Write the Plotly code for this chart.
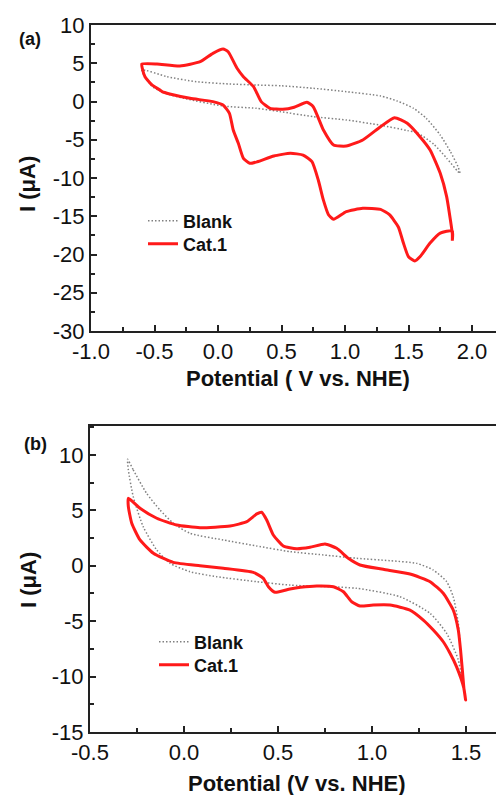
import plotly.graph_objects as go

# ---------------- Panel (a) data ----------------
a_cat_x = [-0.60, -0.48, -0.30, -0.14, -0.04, 0.04, 0.08, 0.15, 0.20, 0.28, 0.34, 0.41, 0.51,
           0.60, 0.70, 0.75, 0.83, 0.91, 1.01, 1.14, 1.28, 1.39, 1.49, 1.59, 1.67, 1.75, 1.80, 1.83, 1.845,
           1.845, 1.845, 1.75, 1.67, 1.59, 1.55, 1.50, 1.46, 1.42, 1.35, 1.28, 1.14, 1.01, 0.91, 0.87,
           0.83, 0.79, 0.74, 0.67, 0.57, 0.44, 0.31, 0.25, 0.20, 0.16, 0.12, 0.09, 0.04, -0.04,
           -0.22, -0.38, -0.44, -0.457, -0.52, -0.575, -0.596, -0.60]
a_cat_y = [4.90, 4.90, 4.64, 5.20, 6.30, 6.86, 6.50, 4.34, 3.24, 1.94, -0.02, -0.89, -1.02,
           -0.75, -0.10, -0.68, -3.73, -5.69, -5.82, -5.03, -3.29, -2.11, -2.85, -4.60, -6.34, -9.39, -12.4, -15.5, -17.3,
           -18.2, -16.9, -17.2, -18.5, -20.3, -20.85, -20.3, -18.5, -16.4, -14.8, -14.1, -13.96, -14.4, -15.4, -14.8,
           -12.9, -10.3, -7.87, -7.0, -6.77, -7.12, -7.87, -8.08, -7.43, -5.47, -3.73, -1.54, -0.46, -0.02,
           0.42, 0.98, 1.28, 1.50, 2.16, 3.24, 4.34, 4.90]

a_blank_x = [-0.60, -0.40, -0.17, 0.09, 0.30, 0.50, 0.75, 1.01, 1.28, 1.41, 1.54, 1.64, 1.75, 1.83, 1.89, 1.906,
             1.89, 1.80, 1.70, 1.57, 1.49, 1.28, 1.01, 0.75, 0.49, 0.30, 0.04, -0.27, -0.42, -0.52, -0.60]
a_blank_y = [4.12, 3.24, 2.59, 2.29, 2.16, 2.05, 1.73, 1.28, 0.72, 0.07, -0.89, -2.20, -4.38, -6.56, -8.52, -9.40,
             -9.17, -7.40, -5.60, -4.10, -3.80, -3.10, -2.42, -1.98, -1.33, -0.89, -0.59, 0.42, 1.10, 2.00, 4.12]

# ---------------- Panel (b) data ----------------
b_cat_x = [-0.296, -0.234, -0.145, -0.039, 0.085, 0.245, 0.334, 0.387, 0.413, 0.44, 0.475, 0.528, 0.599,
           0.67, 0.75, 0.812, 0.874, 0.936, 1.06, 1.202, 1.309, 1.379, 1.432, 1.459, 1.471, 1.482, 1.489, 1.498,
           1.488, 1.45, 1.415, 1.379, 1.326, 1.273, 1.202, 1.096, 1.007, 0.936, 0.892, 0.848, 0.795, 0.706,
           0.62, 0.564, 0.484, 0.449, 0.422, 0.369, 0.209, 0.085, -0.057, -0.163, -0.234, -0.278, -0.296, -0.296]
b_cat_y = [6.08, 5.18, 4.28, 3.67, 3.43, 3.58, 3.97, 4.67, 4.82, 4.12, 2.77, 1.78, 1.53,
           1.66, 1.96, 1.57, 0.67, 0.06, -0.33, -0.75, -1.44, -2.49, -4.00, -5.80, -7.60, -9.70, -11.07, -12.12,
           -11.0, -9.12, -7.90, -6.86, -5.80, -4.90, -4.00, -3.55, -3.55, -3.64, -3.25, -2.35, -1.90, -1.83,
           -1.95, -2.10, -2.40, -1.90, -1.14, -0.60, -0.23, 0.00, 0.30, 1.12, 2.32, 3.83, 5.33, 6.08]

b_blank_x = [-0.30, -0.27, -0.199, -0.128, -0.057, 0.032, 0.209, 0.386, 0.564, 0.741, 0.918, 1.096, 1.238,
             1.326, 1.397, 1.432, 1.459, 1.471, 1.482, 1.49,
             1.459, 1.397, 1.309, 1.149, 0.918, 0.564, 0.386, 0.173, 0.032, -0.074, -0.145, -0.217, -0.27, -0.296, -0.30]
b_blank_y = [9.6, 8.64, 6.53, 5.03, 3.83, 2.92, 2.32, 1.78, 1.27, 0.97, 0.67, 0.45, 0.21,
             -0.39, -1.44, -2.80, -5.20, -7.60, -10.0, -11.4,
             -8.5, -6.1, -4.3, -2.8, -2.04, -1.75, -1.44, -0.99, -0.54, 0.21, 1.42, 3.52, 6.23, 8.64, 9.6]

a_xticks = [-1.0, -0.5, 0.0, 0.5, 1.0, 1.5, 2.0]
a_yticks = [-30, -25, -20, -15, -10, -5, 0, 5, 10]
b_xticks = [-0.5, 0.0, 0.5, 1.0, 1.5]
b_yticks = [-15, -10, -5, 0, 5, 10]

W, H = 496, 795
FONT = "Liberation Sans, Arial, sans-serif"
RED = "#ff1a1a"
GRAY = "#808080"
DOT = "1.5px,2px"

fig = go.Figure()
fig.add_trace(go.Scatter(x=a_blank_x, y=a_blank_y, mode="lines", name="<b>Blank</b>",
                         line=dict(color=GRAY, width=1.5, dash=DOT, shape="spline", smoothing=0.6),
                         xaxis="x", yaxis="y", legend="legend2", legendgroup="a_blank"))
fig.add_trace(go.Scatter(x=a_cat_x, y=a_cat_y, mode="lines", name="<b>Cat.1</b>",
                         line=dict(color=RED, width=3, shape="spline", smoothing=0.5),
                         xaxis="x", yaxis="y", legend="legend3", legendgroup="a_cat"))
fig.add_trace(go.Scatter(x=b_blank_x, y=b_blank_y, mode="lines", name="<b>Blank</b>",
                         line=dict(color=GRAY, width=1.5, dash=DOT, shape="spline", smoothing=0.6),
                         xaxis="x2", yaxis="y2", legend="legend4", legendgroup="b_blank"))
fig.add_trace(go.Scatter(x=b_cat_x, y=b_cat_y, mode="lines", name="<b>Cat.1</b>",
                         line=dict(color=RED, width=3, shape="spline", smoothing=0.5),
                         xaxis="x2", yaxis="y2", legend="legend5", legendgroup="b_cat"))

def fmt(v, dec):
    return f"{v:.{dec}f}"  # ASCII hyphen-minus, as in the reference

def axis_common():
    return dict(showgrid=False, zeroline=False, showline=True, linecolor="#222", linewidth=2,
                automargin=False,
                ticks="inside", ticklen=6, tickwidth=1.5, tickcolor="#222",
                tickfont=dict(family=FONT, size=22, color="#111"))

def minor(dt):
    return dict(ticks="inside", ticklen=4, tickwidth=1.5, tickcolor="#222", dtick=dt, tick0=0)

a_left, a_top, a_bottom = 91, 25, 331
b_left, b_top, b_bottom = 90, 426, 732

xa = axis_common()
xa.update(domain=[a_left / W, 1], range=[-1.0, -1.0 + (W - a_left) / 127.0], anchor="y",
          tickvals=a_xticks, ticktext=[fmt(v, 1) for v in a_xticks], mirror=True, minor=minor(0.25))
ya = axis_common()
ya.update(domain=[(H - a_bottom) / H, (H - a_top) / H], range=[-30, 10], anchor="x",
          tickvals=a_yticks, ticktext=[fmt(v, 0) for v in a_yticks], minor=minor(2.5))
xb = axis_common()
xb.update(domain=[b_left / W, 1], range=[-0.5, -0.5 + (W - b_left) / 188.0], anchor="y2",
          tickvals=b_xticks, ticktext=[fmt(v, 1) for v in b_xticks], mirror=True, minor=minor(0.25))
yb = axis_common()
yb.update(domain=[(H - b_bottom) / H, (H - b_top) / H], range=[-15, 12.6], anchor="x2",
          tickvals=b_yticks, ticktext=[fmt(v, 0) for v in b_yticks], minor=minor(2.5))

leg_font = dict(family=FONT, size=18, color="#111")

def leg(xpx, ypx):
    return dict(x=xpx / W, y=1 - ypx / H, xanchor="left", yanchor="middle", font=leg_font,
                bgcolor="rgba(0,0,0,0)", tracegroupgap=0, itemwidth=30, visible=True)

fig.update_layout(
    width=W, height=H, margin=dict(l=0, r=0, t=0, b=0),
    paper_bgcolor="white", plot_bgcolor="white", showlegend=True,
    xaxis=xa, yaxis=ya, xaxis2=xb, yaxis2=yb,
    legend2=leg(143, 221), legend3=leg(143, 244),
    legend4=leg(154, 642), legend5=leg(154, 665),
)

def ann(text, x, y, size, angle=0):
    fig.add_annotation(text=text, x=x / W, y=1 - y / H, xref="paper", yref="paper",
                       showarrow=False, textangle=angle, xanchor="center", yanchor="middle",
                       font=dict(family=FONT, size=size, color="#111"))

ann("<b>(a)</b>", 30, 39, 18)
ann("<b>(b)</b>", 35, 444, 18)
ann("<b>Potential ( V vs. NHE)</b>", 298, 378, 22)
ann("<b>Potential (V vs. NHE)</b>", 297, 783, 22)
ann("<b>I (μA)</b>", 28, 184, 22, -90)
ann("<b>I (μA)</b>", 28, 580, 22, -90)

fig.write_html("out.html", config={"displayModeBar": False},
               post_script="document.body.style.margin='0';document.body.style.padding='0';"
                           "document.body.style.overflow='hidden';")
